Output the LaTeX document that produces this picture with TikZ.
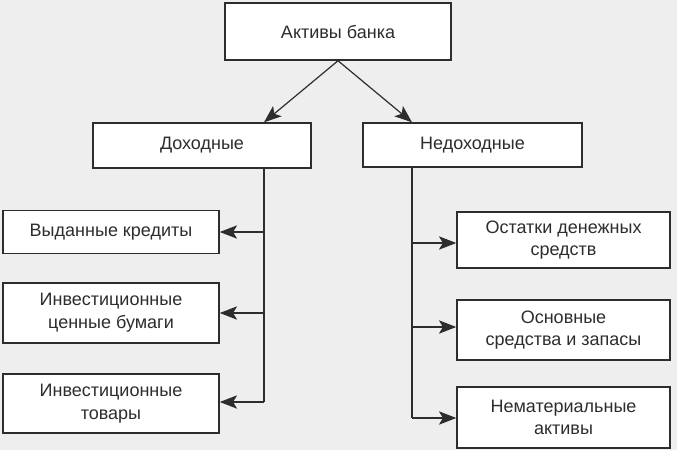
\documentclass[tikz,border=0pt]{standalone}
\usepackage{fontspec}
\setmainfont{Liberation Sans}
\usetikzlibrary{arrows.meta}
\definecolor{scanbg}{RGB}{238,238,238}
\definecolor{ink}{RGB}{45,45,45}
\begin{document}
\begin{tikzpicture}[x=0.75pt, y=-0.75pt,
        block/.style={rectangle, draw=ink, fill=white, line width=1.1pt, align=center, inner sep=2pt, font=\fontsize{13.5}{17}\selectfont, text=ink},
        link/.style={draw=ink, line width=0.9pt},
        arr/.style={link, -{Stealth[length=13pt, width=10pt, inset=3pt]}},]

        \fill[scanbg] (0,0) rectangle (677,450);
        \useasboundingbox (0,0) rectangle (677,450);

        % Top level
        \node[block, minimum width=226*0.75pt, minimum height=57*0.75pt] (akt) at (338,31.5) {Активы банка};
        \node[block, minimum width=218*0.75pt, minimum height=45*0.75pt] (doh) at (202,145.5) {Доходные};
        \node[block, minimum width=219*0.75pt, minimum height=44*0.75pt] (ndoh) at (472.5,145) {Недоходные};

        % Left column
        \node[block, minimum width=216*0.75pt, minimum height=43*0.75pt] (kred) at (111,232) {Выданные кредиты};
        \node[block, minimum width=216*0.75pt, minimum height=60*0.75pt] (cb) at (111,313) {Инвестиционные\\ценные бумаги};
        \node[block, minimum width=216*0.75pt, minimum height=59*0.75pt] (tov) at (111,403.5) {Инвестиционные\\товары};

        % Right column
        \node[block, minimum width=213*0.75pt, minimum height=56*0.75pt] (ost) at (563.5,240) {Остатки денежных\\средств};
        \node[block, minimum width=213*0.75pt, minimum height=60*0.75pt] (osn) at (563.5,330) {Основные\\средства и запасы};
        \node[block, minimum width=213*0.75pt, minimum height=61*0.75pt] (nem) at (563.5,417.5) {Нематериальные\\активы};

        % Buses
        \coordinate (lbus) at (264,402);
        \coordinate (rbus) at (412,418);

        %Links
        \draw[arr] (akt.south) -- (doh.north -| lbus);
        \draw[arr] (akt.south) -- (ndoh.north -| rbus);
        \draw[link] (doh.south -| lbus) -- (lbus);
        \draw[link] (ndoh.south -| rbus) -- (rbus);
        \draw[arr] (kred.east -| lbus) -- (kred.east);
        \draw[arr] (cb.east -| lbus) -- (cb.east);
        \draw[arr] (lbus) -- (lbus -| tov.east);
        \draw[arr] (ost.west -| rbus) ++(0,3) -- ([yshift=-3*0.75pt]ost.west);
        \draw[arr] (osn.west -| rbus) ++(0,-3) -- ([yshift=2.25pt]osn.west);
        \draw[arr] (rbus) -- (rbus -| nem.west);
\end{tikzpicture}
\end{document}
